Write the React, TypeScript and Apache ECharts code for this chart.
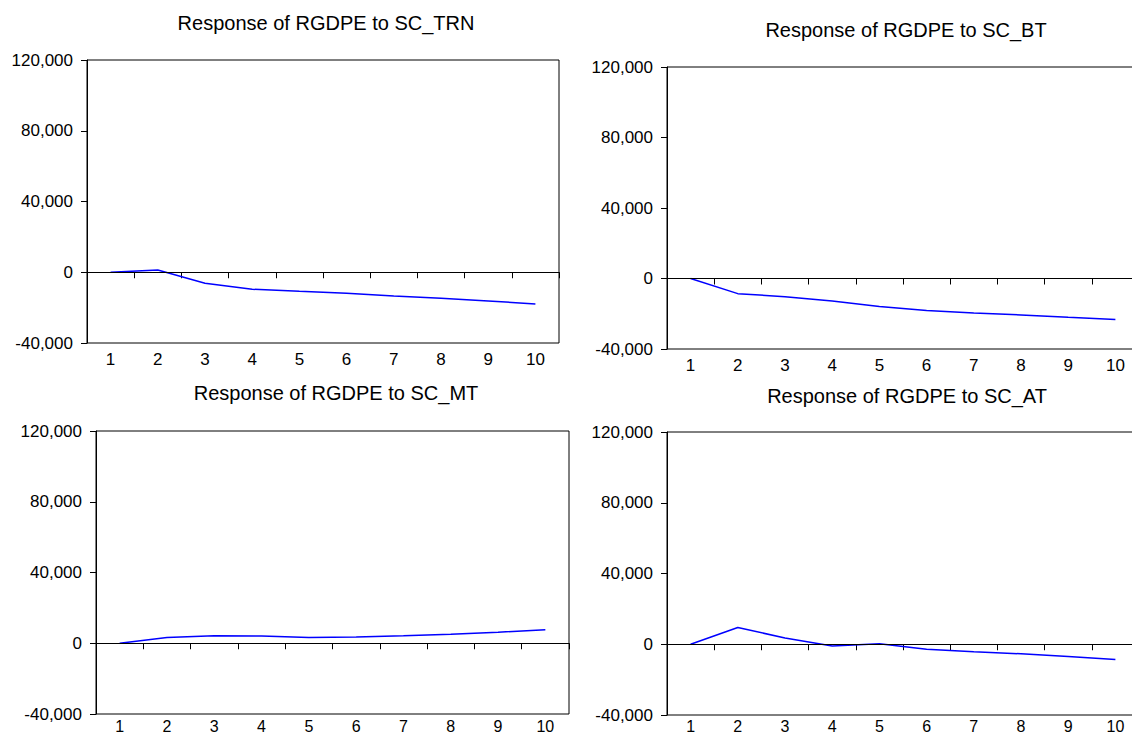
import React, { useEffect, useRef } from "react";
import * as echarts from "echarts";

// Forecast horizon (periods)
const periods = ["1", "2", "3", "4", "5", "6", "7", "8", "9", "10"];

// Impulse responses of RGDPE to each shock
const respTRN = [0, 1300, -6200, -9600, -10800, -11900, -13400, -14700, -16200, -17900];
const respBT = [0, -8600, -10300, -12700, -15900, -18100, -19600, -20700, -22000, -23200];
const respMT = [0, 3200, 4300, 4100, 3200, 3600, 4300, 5100, 6200, 7700];
const respAT = [0, 9500, 3500, -1000, 300, -2800, -4300, -5400, -6900, -8600];

const titles = [
  "Response of RGDPE to SC_TRN",
  "Response of RGDPE to SC_BT",
  "Response of RGDPE to SC_MT",
  "Response of RGDPE to SC_AT",
];
const responses = [respTRN, respBT, respMT, respAT];

// y-axis range and step
const yMin = -40000;
const yMax = 120000;
const yStep = 40000;

// Panel placement in pixels; the lower row keeps its period labels inside the page
const panels = [
  { left: 87, top: 60, width: 472, height: 283, titleX: 321, titleTop: 8, xFont: 17, xMargin: 9 },
  { left: 667, top: 67, width: 472, height: 282, titleX: 901, titleTop: 15, xFont: 17, xMargin: 9 },
  { left: 96, top: 431, width: 473, height: 283, titleX: 331, titleTop: 378, xFont: 16, xMargin: 5 },
  { left: 667, top: 432, width: 472, height: 283, titleX: 902, titleTop: 381, xFont: 16, xMargin: 4 },
];

const FONT = "'Liberation Sans', Arial, sans-serif";

export default function App() {
  const ref = useRef<HTMLDivElement>(null);

  useEffect(() => {
    if (!ref.current) return;
    const chart = echarts.init(ref.current, null, { renderer: "svg" });

    const option = {
      animation: false,
      backgroundColor: "#ffffff",
      title: panels.map((p, i) => ({
        text: titles[i],
        left: p.titleX,
        top: p.titleTop,
        textAlign: "center",
        textStyle: {
          fontFamily: FONT,
          fontSize: 20,
          fontWeight: "normal",
          color: "#000",
        },
      })),
      grid: panels.map((p) => ({
        left: p.left,
        top: p.top,
        width: p.width,
        height: p.height,
        show: true,
        borderColor: "#000",
        borderWidth: 1,
        backgroundColor: "transparent",
        containLabel: false,
        outerBoundsMode: "none",
      })),
      xAxis: panels.map((p, i) => ({
        type: "category",
        gridIndex: i,
        data: periods,
        boundaryGap: true,
        axisLine: { show: true, lineStyle: { color: "#000", width: 1 } },
        axisTick: { show: true, inside: false, length: 6, lineStyle: { color: "#000" } },
        axisLabel: {
          margin: p.xMargin,
          lineHeight: 14,
          fontFamily: FONT,
          fontSize: p.xFont,
          color: "#000",
        },
        splitLine: { show: false },
      })),
      yAxis: panels.map((_, i) => ({
        type: "value",
        gridIndex: i,
        min: yMin,
        max: yMax,
        interval: yStep,
        axisLine: { show: true, lineStyle: { color: "#000", width: 1 } },
        axisTick: { show: true, inside: false, length: 6, lineStyle: { color: "#000" } },
        axisLabel: {
          margin: 14,
          fontFamily: FONT,
          fontSize: 17,
          color: "#000",
          formatter: (v: number) => v.toLocaleString("en-US"),
        },
        splitLine: { show: false },
      })),
      series: responses.map((data, i) => ({
        type: "line",
        xAxisIndex: i,
        yAxisIndex: i,
        data,
        showSymbol: false,
        symbol: "none",
        lineStyle: { color: "#0000ff", width: 1.5 },
        silent: true,
        markLine: {
          silent: true,
          symbol: "none",
          label: { show: false },
          lineStyle: { color: "#000", width: 1, type: "solid" },
          data: [{ yAxis: 0 }],
        },
      })),
    };

    chart.setOption(option as any);
    return () => chart.dispose();
  }, []);

  return (
    <div
      ref={ref}
      style={{ position: "fixed", left: 0, top: 0, width: 1132, height: 737 }}
    />
  );
}
